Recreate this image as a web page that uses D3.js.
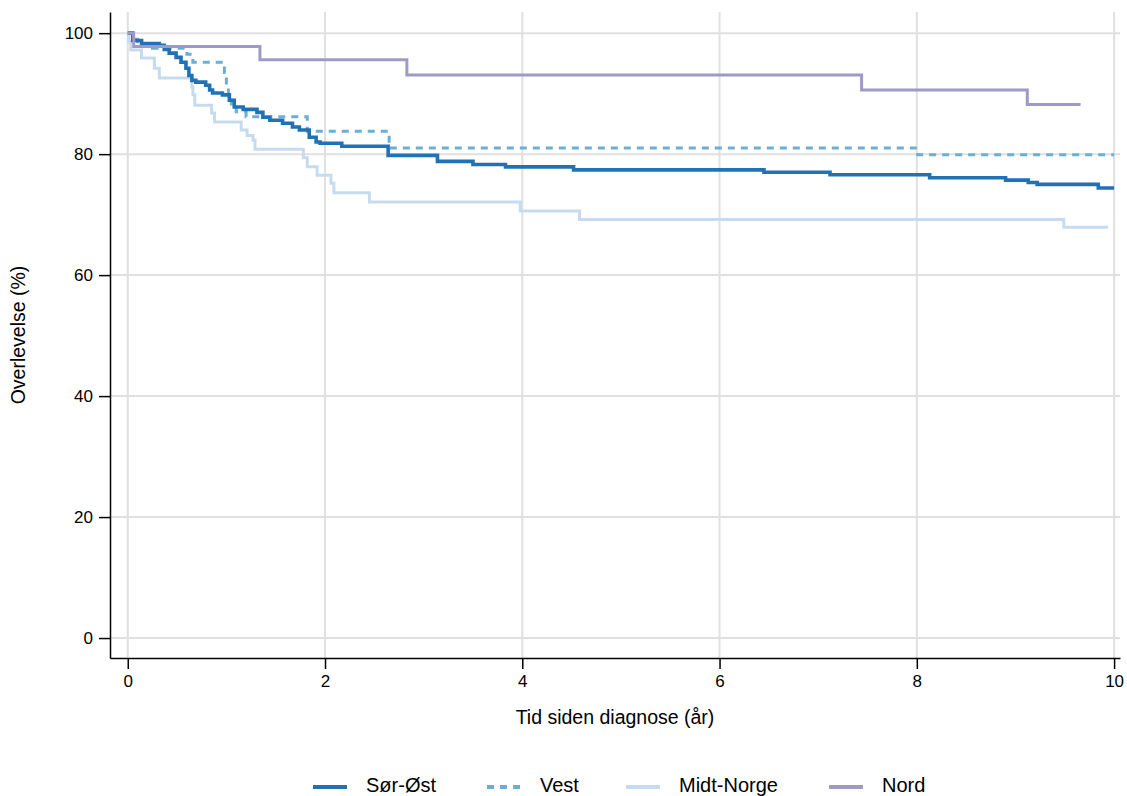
<!DOCTYPE html>
<html>
<head>
<meta charset="utf-8">
<script src="https://cdn.jsdelivr.net/npm/d3@7/dist/d3.min.js"></script>
<style>
  html, body { margin: 0; padding: 0; background: #fff; }
  svg { display: block; font-family: "Liberation Sans", Arial, sans-serif; }
</style>
</head>
<body>
<svg id="chart" width="1127" height="796"></svg>
<script>
// ---- Data (Kaplan-Meier step points: time in years, survival in %) ----
const seriesNames = ["Sør-Øst", "Vest", "Midt-Norge", "Nord"];

const sorOstTimes = [0, 0.05, 0.14, 0.32, 0.37, 0.42, 0.49, 0.54, 0.59, 0.62, 0.65, 0.69, 0.79, 0.83, 0.86, 0.96, 1.03, 1.08, 1.17, 1.31, 1.37, 1.44, 1.57, 1.67, 1.74, 1.84, 1.91, 1.95, 2.17, 2.64, 3.14, 3.5, 3.83, 4.52, 6.45, 7.12, 8.13, 8.9, 9.13, 9.22, 9.84, 10.0];
const sorOstSurv  = [100, 98.8, 98.3, 98.0, 97.3, 96.7, 96.0, 95.2, 94.2, 93.0, 92.2, 91.9, 91.4, 90.6, 90.1, 89.8, 88.9, 87.8, 87.4, 86.9, 86.1, 85.6, 85.1, 84.5, 84.0, 82.8, 82.0, 81.8, 81.3, 79.8, 78.8, 78.3, 77.9, 77.4, 77.0, 76.6, 76.1, 75.7, 75.3, 75.0, 74.4, 74.4];

const vestTimes = [0, 0.05, 0.1, 0.25, 0.6, 0.66, 0.98, 1.0, 1.02, 1.05, 1.1, 1.2, 1.82, 2.65, 8.01, 10.0];
const vestSurv  = [100, 99.0, 98.3, 97.5, 96.5, 95.2, 93.5, 91.5, 89.5, 88.0, 87.0, 86.2, 83.8, 81.0, 79.9, 79.9];

const midtTimes = [0, 0.01, 0.03, 0.14, 0.27, 0.32, 0.65, 0.66, 0.68, 0.85, 0.88, 1.15, 1.21, 1.27, 1.29, 1.78, 1.82, 1.92, 2.06, 2.09, 2.45, 3.98, 4.58, 9.49, 9.94];
const midtSurv  = [100, 98.6, 97.2, 95.9, 94.2, 92.6, 91.1, 89.8, 88.1, 86.8, 85.3, 84.0, 83.1, 82.3, 80.8, 79.4, 77.9, 76.5, 75.2, 73.6, 72.1, 70.6, 69.2, 67.9, 67.9];

const nordTimes = [0, 0.06, 1.34, 2.83, 7.44, 9.12, 9.66];
const nordSurv  = [100, 97.8, 95.6, 93.1, 90.6, 88.2, 88.2];

const xTicks = [0, 2, 4, 6, 8, 10];
const yTicks = [0, 20, 40, 60, 80, 100];
const xTitle = "Tid siden diagnose (år)";
const yTitle = "Overlevelse (%)";

// ---- Styles ----
const colors = ["#2171b5", "#6baed6", "#c6dbef", "#9e9ac8"];
const widths = [3.6, 3, 3, 3];
const dashes = [null, "7,6", null, null];

const svg = d3.select("#chart");

const x = d3.scaleLinear().domain([-0.18, 10.06]).range([110, 1120]);
const y = d3.scaleLinear().domain([-3.3, 103.5]).range([658, 12]);

// Gridlines
const grid = svg.append("g");
grid.selectAll("line.gx").data(xTicks).enter().append("line")
  .attr("x1", d => x(d)).attr("x2", d => x(d))
  .attr("y1", y.range()[1]).attr("y2", y.range()[0])
  .attr("stroke", "#e0e0e0").attr("stroke-width", 2);
grid.selectAll("line.gy").data(yTicks).enter().append("line")
  .attr("x1", x.range()[0]).attr("x2", x.range()[1])
  .attr("y1", d => y(d)).attr("y2", d => y(d))
  .attr("stroke", "#e0e0e0").attr("stroke-width", 2);

// Curves
const allSeries = [
  { times: sorOstTimes, surv: sorOstSurv },
  { times: vestTimes, surv: vestSurv },
  { times: midtTimes, surv: midtSurv },
  { times: nordTimes, surv: nordSurv }
];
const line = d3.line()
  .x(d => x(d[0])).y(d => y(d[1]))
  .curve(d3.curveStepAfter);

const drawOrder = [2, 1, 0, 3];
drawOrder.forEach(i => {
  const s = allSeries[i];
  const pts = s.times.map((t, k) => [t, s.surv[k]]);
  svg.append("path")
    .attr("d", line(pts))
    .attr("fill", "none")
    .attr("stroke", colors[i])
    .attr("stroke-width", widths[i])
    .attr("stroke-dasharray", dashes[i])
    .attr("stroke-linejoin", "miter")
    .attr("stroke-linecap", "butt");
});

// Axes
const xAxis = d3.axisBottom(x).tickValues(xTicks).tickSize(11).tickSizeOuter(0).tickPadding(6).tickFormat(d3.format("d"));
const yAxis = d3.axisLeft(y).tickValues(yTicks).tickSize(11).tickSizeOuter(0).tickPadding(6).tickFormat(d3.format("d"));

const gx = svg.append("g").attr("transform", `translate(0,${y.range()[0]})`).call(xAxis);
const gy = svg.append("g").attr("transform", `translate(${x.range()[0]},0)`).call(yAxis);
[gx, gy].forEach(g => {
  g.select(".domain").attr("stroke", "#000").attr("stroke-width", 1.5);
  g.selectAll(".tick line").attr("stroke", "#000").attr("stroke-width", 1.5);
  g.selectAll(".tick text").attr("fill", "#000").style("font-size", "17px")
    .style("font-family", "'Liberation Sans', Arial, sans-serif");
});

// Axis titles
svg.append("text")
  .attr("x", 615).attr("y", 724)
  .attr("text-anchor", "middle")
  .style("font-size", "19.5px").attr("fill", "#000")
  .text(xTitle);
svg.append("text")
  .attr("transform", `translate(25,${(y.range()[0] + y.range()[1]) / 2}) rotate(-90)`)
  .attr("text-anchor", "middle")
  .style("font-size", "19.5px").attr("fill", "#000")
  .text(yTitle);

// Legend
const legendX = [313, 487, 626, 829];
const legend = svg.append("g");
seriesNames.forEach((name, i) => {
  const g = legend.append("g").attr("transform", `translate(${legendX[i]},787)`);
  g.append("line").attr("x1", 0).attr("x2", 34).attr("y1", 0).attr("y2", 0)
    .attr("stroke", colors[i]).attr("stroke-width", 4)
    .attr("stroke-dasharray", dashes[i]);
  g.append("text").attr("x", 53).attr("y", 5)
    .style("font-size", "20px").attr("fill", "#000").text(name);
});
</script>
</body>
</html>
